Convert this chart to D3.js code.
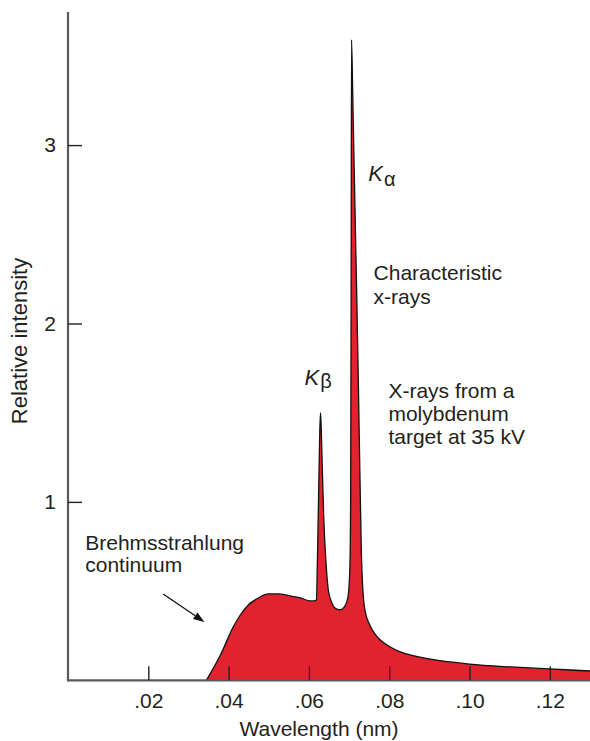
<!DOCTYPE html>
<html>
<head>
<meta charset="utf-8">
<script src="https://cdn.jsdelivr.net/npm/d3@7"></script>
<style>
  html, body { margin: 0; padding: 0; background: #fff; }
  svg { display: block; }
  text { font-family: "Liberation Sans", Arial, Helvetica, sans-serif; fill: #231f20; }
</style>
</head>
<body>
<script>
// X-ray emission spectrum of a molybdenum target (35 kV)
const wavelength = [
  0.03445, 0.03793, 0.04117, 0.04291, 0.04491, 0.04740, 0.04989, 0.05238,
  0.05537, 0.05786, 0.06035, 0.06135,
  0.06184, 0.06221, 0.06252, 0.06271, 0.06289, 0.06309, 0.06334, 0.06371,
  0.06421, 0.06483, 0.06583, 0.06683, 0.06782, 0.06882, 0.06969, 0.07019,
  0.07039, 0.07051, 0.07061,
  0.07094, 0.07143, 0.07193, 0.07230, 0.07268, 0.07305, 0.07342, 0.07405,
  0.07504, 0.07629, 0.07778, 0.08027, 0.08276, 0.08650, 0.09023, 0.09521,
  0.09995, 0.11016, 0.11988, 0.13009
];
const intensity = [
  0.000, 0.140, 0.300, 0.366, 0.422, 0.461, 0.484, 0.484,
  0.473, 0.462, 0.445, 0.445,
  0.450, 0.787, 1.180, 1.400, 1.500, 1.400, 1.180, 0.900,
  0.675, 0.506, 0.428, 0.400, 0.395, 0.411, 0.462, 0.620,
  1.010, 2.130, 3.590,
  3.250, 2.690, 2.130, 1.680, 1.180, 0.730, 0.510, 0.383,
  0.316, 0.265, 0.226, 0.187, 0.159, 0.136, 0.119, 0.103,
  0.091, 0.075, 0.064, 0.052
];

const xTickValues = [0.02, 0.04, 0.06, 0.08, 0.10, 0.12];
const xTickLabels = [".02", ".04", ".06", ".08", ".10", ".12"];
const yTickValues = [1, 2, 3];
const yTickLabels = ["1", "2", "3"];

const W = 590, H = 741;
const margin = { left: 68, right: 0, top: 12, bottom: 60 };

const x = d3.scaleLinear().domain([0, 0.13]).range([margin.left, W - margin.right]);
const y = d3.scaleLinear().domain([0, 3.746]).range([H - margin.bottom - 0.7, margin.top]);

const svg = d3.select("body").append("svg").attr("width", W).attr("height", H);

const pts = wavelength.map((w, i) => [w, intensity[i]]);

// spectrum fill
svg.append("path")
  .datum(pts)
  .attr("d", d3.area().x(d => x(d[0])).y0(y(0)).y1(d => y(d[1])).curve(d3.curveMonotoneX))
  .attr("fill", "#e1222f");

// spectrum outline
svg.append("path")
  .datum(pts)
  .attr("d", d3.line().x(d => x(d[0])).y(d => y(d[1])).curve(d3.curveMonotoneX))
  .attr("fill", "none")
  .attr("stroke", "#111")
  .attr("stroke-width", 1.3)
  .attr("stroke-linejoin", "round");

// axes (ticks point inward)
const xAxis = d3.axisBottom(x)
  .tickValues(xTickValues)
  .tickFormat((d, i) => xTickLabels[i])
  .tickSizeInner(-14).tickSizeOuter(0).tickPadding(13);
const yAxis = d3.axisLeft(y)
  .tickValues(yTickValues)
  .tickFormat((d, i) => yTickLabels[i])
  .tickSizeInner(-14).tickSizeOuter(0).tickPadding(12);

const gx = svg.append("g").attr("transform", `translate(0,${y(0)})`).call(xAxis);
const gy = svg.append("g").attr("transform", `translate(${x(0)},0)`).call(yAxis);

[gx, gy].forEach(g => {
  g.select(".domain").attr("stroke", "#5a5a5a").attr("stroke-width", 2.2);
  g.selectAll(".tick line").attr("stroke", "#222").attr("stroke-width", 1.4);
  g.selectAll(".tick text")
    .attr("font-size", 21)
    .attr("font-family", "\"Liberation Sans\", Arial, Helvetica, sans-serif")
    .attr("fill", "#231f20");
});
gy.select(".domain").attr("d", `M0,${y(0) + 1}V${y.range()[1]}`);
gx.select(".domain").attr("d", `M${x(0) - 1},0H${x.range()[1]}`);

// axis titles
svg.append("text")
  .attr("x", 319).attr("y", 736)
  .attr("text-anchor", "middle")
  .attr("font-size", 21)
  .text("Wavelength (nm)");

svg.append("text")
  .attr("transform", `translate(27,${341}) rotate(-90)`)
  .attr("text-anchor", "middle")
  .attr("font-size", 22)
  .text("Relative intensity");

// annotations
function multiline(x0, y0, lines, gap) {
  const t = svg.append("text").attr("x", x(x0)).attr("y", y(y0)).attr("font-size", 21);
  lines.forEach((s, i) => t.append("tspan").attr("x", x(x0)).attr("dy", i ? gap : 0).text(s));
}
multiline(0.0043, 0.731, ["Brehmsstrahlung", "continuum"], 22);
multiline(0.0761, 2.245, ["Characteristic", "x-rays"], 24);
multiline(0.0798, 1.583, ["X-rays from a", "molybdenum", "target at 35 kV"], 23);

function kLabel(x0, y0, greek, shift) {
  const t = svg.append("text").attr("x", x(x0)).attr("y", y(y0));
  t.append("tspan").attr("font-size", 22).attr("font-style", "italic").text("K");
  t.append("tspan").attr("font-size", 20).attr("dx", 1).attr("dy", shift).text(greek);
}
kLabel(0.0748, 2.797, "\u03b1", 5);
kLabel(0.0589, 1.656, "\u03b2", 3);

// arrow pointing to the continuum
const arrowTail = [0.0237, 0.484], arrowTip = [0.03395, 0.327];
const x1 = x(arrowTail[0]), y1 = y(arrowTail[1]), x2 = x(arrowTip[0]), y2 = y(arrowTip[1]);
const ang = Math.atan2(y2 - y1, x2 - x1);
const hl = 11, hw = 4;
const bx = x2 - hl * Math.cos(ang), by = y2 - hl * Math.sin(ang);
svg.append("line")
  .attr("x1", x1).attr("y1", y1).attr("x2", bx).attr("y2", by)
  .attr("stroke", "#111").attr("stroke-width", 1.3);
svg.append("path")
  .attr("d", `M${x2},${y2}L${bx - hw * Math.sin(ang)},${by + hw * Math.cos(ang)}L${bx + hw * Math.sin(ang)},${by - hw * Math.cos(ang)}Z`)
  .attr("fill", "#111");
</script>
</body>
</html>
